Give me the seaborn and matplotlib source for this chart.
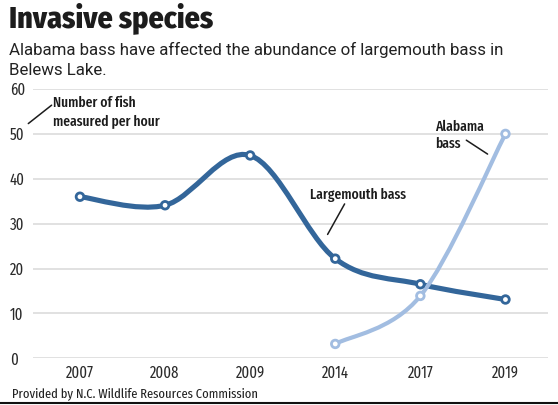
import numpy as np
import pandas as pd
import matplotlib
matplotlib.use("Agg")
import matplotlib.pyplot as plt
import seaborn as sns
from matplotlib.path import Path
from matplotlib.patches import PathPatch

years = ["2007", "2008", "2009", "2014", "2017", "2019"]

largemouth_years = ["2007", "2008", "2009", "2014", "2017", "2019"]
largemouth_values = [36, 34.1, 45.2, 22.2, 16.5, 13.1]

alabama_years = ["2014", "2017", "2019"]
alabama_values = [3.2, 13.9, 50]

y_ticks = [0, 10, 20, 30, 40, 50, 60]

dark_blue = "#33669a"
light_blue = "#a2bde1"
grid_gray = "#dcdcdc"
ink = "#1c1c1c"

cond = "Fira Sans Extra Condensed"

sns.set_theme(style="white")

rows = []
for yr, v in zip(largemouth_years, largemouth_values):
    rows.append({"pos": years.index(yr), "value": v, "species": "Largemouth bass"})
for yr, v in zip(alabama_years, alabama_values):
    rows.append({"pos": years.index(yr), "value": v, "species": "Alabama bass"})
df = pd.DataFrame(rows)

colors = {"Largemouth bass": dark_blue, "Alabama bass": light_blue}


def smooth_path(xs, ys):
    # catmull-rom segments drawn as cubic bezier curves
    pts = np.column_stack([xs, ys]).astype(float)
    ext = np.vstack([pts[0], pts, pts[-1]])
    verts = [tuple(pts[0])]
    codes = [Path.MOVETO]
    for i in range(1, len(ext) - 2):
        p0, p1, p2, p3 = ext[i - 1], ext[i], ext[i + 1], ext[i + 2]
        c1 = p1 + (p2 - p0) / 6
        c2 = p2 - (p3 - p1) / 6
        verts += [tuple(c1), tuple(c2), tuple(p2)]
        codes += [Path.CURVE4, Path.CURVE4, Path.CURVE4]
    return Path(verts, codes)


fig = plt.figure(figsize=(5.58, 4.05), dpi=100)
ax = fig.add_axes([0.0591, 0.1153, 0.923, 0.6649])

for t in y_ticks:
    ax.axhline(t, color=grid_gray, linewidth=1.2, zorder=0)

for species, lw in [("Largemouth bass", 3.7), ("Alabama bass", 3.0)]:
    sub = df[df["species"] == species]
    ax.add_patch(
        PathPatch(
            smooth_path(sub["pos"], sub["value"]),
            facecolor="none",
            edgecolor=colors[species],
            linewidth=lw,
            capstyle="round",
            zorder=2
        )
    )

sns.scatterplot(
    data=df,
    x="pos",
    y="value",
    hue="species",
    palette=colors,
    s=30,
    linewidth=2,
    legend=False,
    zorder=3,
    ax=ax
)
for coll in ax.collections:
    coll.set_edgecolor([colors[s] for s in df["species"]])
    coll.set_facecolor("white")

ax.set_xlim(-0.552, 5.50)
ax.set_ylim(0, 60)
ax.set_xticks(range(len(years)))
ax.set_xticklabels(years, fontfamily=cond, fontsize=11.5, color="#2a2a2a")
ax.set_yticks(y_ticks)
ax.set_yticklabels([str(t) for t in y_ticks], fontfamily=cond, fontsize=11.5, color="#2a2a2a", ha="left")
ax.tick_params(axis="y", length=0, pad=0)
ax.tick_params(axis="x", length=0, pad=5)
for lab in ax.get_yticklabels():
    lab.set_x(-0.0447)
ax.set_xlabel("")
ax.set_ylabel("")
sns.despine(ax=ax, left=True, bottom=True)

fig.text(
    0.017, 1 - 27.3 / 405,
    "Invasive species",
    fontfamily="Fira Sans Condensed",
    fontweight=800,
    fontsize=21.6,
    color=ink,
    va="baseline"
)
fig.text(
    0.017, 1 - 55 / 405,
    "Alabama bass have affected the abundance of largemouth bass in",
    fontfamily="Roboto",
    fontsize=12.2,
    color="#222222",
    va="baseline"
)
fig.text(
    0.017, 1 - 75 / 405,
    "Belews Lake.",
    fontfamily="Roboto",
    fontsize=12.2,
    color="#222222",
    va="baseline"
)

note_size = 10.6

ax.text(
    -0.314, 58.4,
    "Number of fish",
    fontfamily=cond,
    fontweight=500,
    fontsize=note_size,
    color=ink,
    va="top"
)
ax.text(
    -0.314, 54.2,
    "measured per hour",
    fontfamily=cond,
    fontweight=500,
    fontsize=note_size,
    color=ink,
    va="top"
)
ax.plot([-0.607, -0.333], [52.3, 56.4], color=ink, linewidth=1.1, clip_on=False)

ax.text(
    2.70, 38.1,
    "Largemouth bass",
    fontfamily=cond,
    fontweight=500,
    fontsize=note_size,
    color=ink,
    va="top"
)
ax.plot([2.91, 3.11], [27.6, 34.4], color=ink, linewidth=1.1)

ax.text(
    4.17, 53.1,
    "Alabama",
    fontfamily=cond,
    fontweight=500,
    fontsize=note_size,
    color=ink,
    va="top"
)
ax.text(
    4.17, 49.4,
    "bass",
    fontfamily=cond,
    fontweight=500,
    fontsize=note_size,
    color=ink,
    va="top"
)
ax.plot([4.54, 4.79], [48.6, 45.5], color=ink, linewidth=1.1)

fig.text(
    0.021, 1 - 397 / 405,
    "Provided by N.C. Wildlife Resources Commission",
    fontfamily=cond,
    fontsize=9.8,
    color="#222222",
    va="baseline"
)
fig.add_artist(plt.Line2D([0, 1], [0.004, 0.004], color="#111111", linewidth=1.5))

plt.savefig("out.png", dpi=100)
